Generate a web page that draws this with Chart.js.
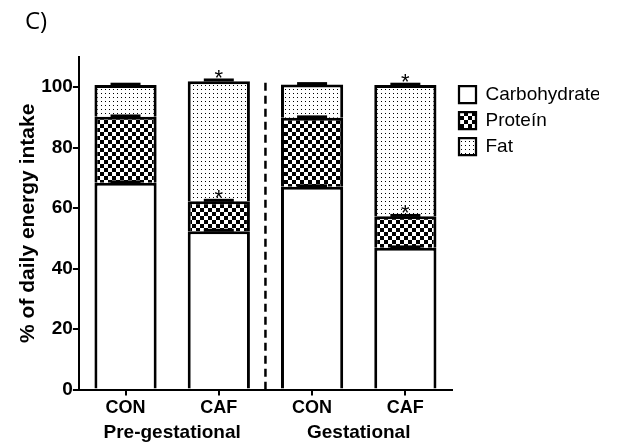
<!DOCTYPE html>
<html>
<head>
<meta charset="utf-8">
<script src="https://cdn.jsdelivr.net/npm/chart.js@4"></script>
<style>
  html, body { margin: 0; padding: 0; background: #fff; }
  #wrap { position: relative; width: 623px; height: 446px; }
  #panel { position: absolute; left: 25px; top: 8px; font: 24px/24px "Open Sans", sans-serif; color: #000; }
</style>
</head>
<body>
<div id="wrap">
  <div id="panel">C)</div>
  <canvas id="myChart" width="623" height="446"></canvas>
</div>
<script>
// values (% of daily energy intake, stacked)
const categories = ['CON', 'CAF', 'CON', 'CAF'];
const groups = ['Pre-gestational', 'Gestational'];
const carbohydrate = [68.4, 52.4, 67.1, 46.9];
const protein = [21.8, 9.9, 22.8, 10.4];
const fat = [10.5, 39.7, 11.0, 43.4];
const carbErr = [0.3, 0.3, 0.3, 0.3];
const protErr = [0.3, 0.3, 0.3, 0.3];
const fatErr = [0.3, 0.4, 0.3, 0.3];
const protStar = [false, true, false, true];
const fatStar = [false, true, false, true];
const yTicks = [0, 20, 40, 60, 80, 100];

const FONT = '"Liberation Sans", Arial, sans-serif';
const ctx = document.getElementById('myChart');

function makePattern(draw, w, h) {
    let c = document.createElement('canvas');
    c.width = w;
    c.height = h;
    let g = c.getContext('2d');
    g.fillStyle = '#fff';
    g.fillRect(0, 0, w, h);
    g.fillStyle = '#000';
    draw(g);
    return ctx.getContext('2d').createPattern(c, 'repeat');
}
const checker = makePattern(g => { g.fillRect(0, 0, 4, 4); g.fillRect(4, 4, 4, 4); }, 8, 8);
const dots = makePattern(g => g.fillRect(1, 1, 1, 1), 4, 4);

function seg(label, data, bg) {
    return {
        label: label,
        data: data,
        backgroundColor: bg,
        borderColor: '#000',
        borderWidth: { top: 3, left: 3, right: 3, bottom: 0 },
        borderSkipped: false,
        barPercentage: 0.667,
        categoryPercentage: 1
    };
}

// error caps, asterisks and the dashed separator
const extras = {
    id: 'extras',
    afterDatasetsDraw(chart) {
        const c = chart.ctx;
        const x = chart.scales.x, y = chart.scales.y;
        c.save();
        c.strokeStyle = '#000';
        c.fillStyle = '#000';
        const parts = [[carbohydrate, carbErr, null], [protein, protErr, protStar], [fat, fatErr, fatStar]];
        let base = [0, 0, 0, 0];
        parts.forEach(p => {
            base = base.map((b, i) => b + p[0][i]);
            base.forEach((top, i) => {
                let xc = x.getPixelForValue(i);
                let y0 = y.getPixelForValue(top);
                let y1 = y.getPixelForValue(top + p[1][i]);
                c.lineWidth = 2;
                c.beginPath(); c.moveTo(xc, y0); c.lineTo(xc, y1); c.stroke();
                c.lineWidth = 3;
                c.beginPath(); c.moveTo(xc - 15, y1); c.lineTo(xc + 15, y1); c.stroke();
                if (p[2] && p[2][i]) {
                    c.font = '22px ' + FONT;
                    c.textAlign = 'center';
                    c.textBaseline = 'alphabetic';
                    c.fillText('*', xc, y1 + 5);
                }
            });
        });
        let xd = (x.getPixelForValue(1) + x.getPixelForValue(2)) / 2;
        c.lineWidth = 2.5;
        c.setLineDash([8, 5]);
        c.beginPath();
        c.moveTo(xd, y.getPixelForValue(101.5));
        c.lineTo(xd, y.getPixelForValue(0));
        c.stroke();
        c.restore();
    }
};

var chart = new Chart(ctx, {
    type: 'bar',
    data: {
        labels: categories,
        datasets: [
            seg('Carbohydrate', carbohydrate, '#fff'),
            seg('Proteín', protein, checker),
            seg('Fat', fat, dots)
        ]
    },
    plugins: [extras],
    options: {
        responsive: false,
        animation: false,
        devicePixelRatio: 1,
        layout: { padding: { left: 11, right: 24, top: 57, bottom: 2 } },
        plugins: {
            tooltip: { enabled: false },
            legend: {
                position: 'right',
                align: 'start',
                title: { display: true, text: ' ', padding: { top: 5, bottom: 4 }, font: { size: 10 } },
                labels: {
                    boxWidth: 17,
                    boxHeight: 17,
                    padding: 7,
                    color: '#000',
                    font: { family: FONT, size: 19 }
                }
            }
        },
        scales: {
            x: {
                stacked: true,
                offset: true,
                z: 1,
                grid: { display: true, drawOnChartArea: false, offset: false, tickLength: 6, color: '#000', lineWidth: 2 },
                border: { display: true, color: '#000', width: 2 },
                ticks: { color: '#000', padding: 2, font: { family: FONT, size: 18, weight: 'bold' } }
            },
            x2: {
                type: 'category',
                labels: groups,
                position: 'bottom',
                offset: true,
                grid: { display: false, drawTicks: false },
                border: { display: false },
                ticks: { color: '#000', padding: 0, font: { family: FONT, size: 19, weight: 'bold' } }
            },
            y: {
                stacked: true,
                min: 0,
                max: 110,
                afterBuildTicks: s => { s.ticks = yTicks.map(v => ({ value: v })); },
                grid: { drawOnChartArea: false, tickLength: 6, color: '#000', lineWidth: 2 },
                border: { display: true, color: '#000', width: 2 },
                ticks: { color: '#000', padding: 0, font: { family: FONT, size: 19, weight: 'bold' } },
                title: {
                    display: true,
                    text: '% of daily energy intake',
                    color: '#000',
                    padding: { top: 5, bottom: 0 },
                    font: { family: FONT, size: 21, weight: 'bold' }
                }
            }
        }
    }
});
</script>
</body>
</html>
